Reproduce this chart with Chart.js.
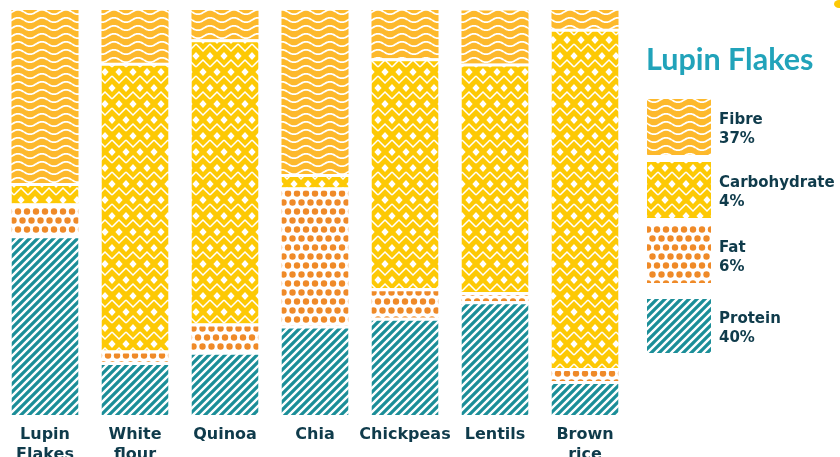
<!DOCTYPE html>
<html>
<head>
<meta charset="utf-8">
<script src="https://cdn.jsdelivr.net/npm/chart.js@4.4.1/dist/chart.umd.min.js"></script>
<style>
  html, body { margin: 0; padding: 0; background: #fff; }
  #wrap { width: 840px; height: 457px; position: relative; }
</style>
</head>
<body>
<div id="wrap"><canvas id="chart"></canvas></div>
<script>
// categories and shares of each bar (percent of bar height)
const foods = [['Lupin', 'Flakes'], ['White', 'flour'], 'Quinoa', 'Chia', 'Chickpeas', 'Lentils', ['Brown', 'rice']];
const protein = [44.4, 13.1, 15.6, 22.1, 24.0, 28.1, 8.4];
const fat = [7.8, 2.8, 7.0, 34.1, 7.3, 2.3, 3.2];
const carbohydrate = [5.1, 71.1, 70.2, 3.3, 56.8, 56.4, 83.8];
const fibre = [42.7, 13.0, 7.2, 40.5, 11.9, 13.1, 4.6];

// legend: values shown for Lupin Flakes
const legendTitle = 'Lupin Flakes';
const legendNames = ['Fibre', 'Carbohydrate', 'Fat', 'Protein'];
const legendValues = ['37%', '4%', '6%', '40%'];

const DARK = '#0f3b4b';

// --- pattern tiles ---
function tile(w, h, draw) {
    const c = document.createElement('canvas');
    c.width = w; c.height = h;
    draw(c.getContext('2d'), w, h);
    return c;
}

const stripeTile = tile(8, 8, (g, w, h) => {
    g.fillStyle = '#1b8e98';
    g.fillRect(0, 0, w, h);
    g.strokeStyle = '#fff';
    g.lineWidth = 2.4;
    g.beginPath();
    for (let k = -1; k <= 1; k++) {
        g.moveTo(k * w - 1, h + 1);
        g.lineTo(k * w + w + 1, -1);
    }
    g.stroke();
});

const dotTile = tile(9, 18, (g, w, h) => {
    g.fillStyle = '#fff';
    g.fillRect(0, 0, w, h);
    g.fillStyle = '#ef8a28';
    [[4.5, 4.5], [0, 13.5], [9, 13.5]].forEach(([x, y]) => {
        g.beginPath();
        g.arc(x, y, 3.2, 0, Math.PI * 2);
        g.fill();
    });
});

const diamondTile = tile(14, 32, (g, w, h) => {
    g.fillStyle = '#fdc905';
    g.fillRect(0, 0, w, h);
    g.fillStyle = '#fff';
    [[7, 8], [0, 24], [14, 24]].forEach(([x, y]) => {
        g.beginPath();
        g.moveTo(x, y - 4);
        g.lineTo(x + 3.6, y);
        g.lineTo(x, y + 4);
        g.lineTo(x - 3.6, y);
        g.closePath();
        g.fill();
    });
    g.strokeStyle = '#fff';
    g.lineWidth = 1.5;
    g.beginPath();
    g.moveTo(0, 12); g.lineTo(7, 19); g.lineTo(14, 12);
    g.moveTo(0, 3); g.lineTo(7, -4); g.lineTo(14, 3);
    g.moveTo(0, 35); g.lineTo(7, 28); g.lineTo(14, 35);
    g.stroke();
});

const waveTile = tile(24, 8, (g, w, h) => {
    g.fillStyle = '#fdb92c';
    g.fillRect(0, 0, w, h);
    g.strokeStyle = '#fff';
    g.lineWidth = 1.8;
    for (let k = -1; k <= 1; k++) {
        g.beginPath();
        for (let x = 0; x <= w; x += 0.5) {
            const y = 4 + k * h + 2.2 * Math.sin(x / w * Math.PI * 2);
            if (x === 0) g.moveTo(x, y); else g.lineTo(x, y);
        }
        g.stroke();
    }
});

const ctx = document.getElementById('chart').getContext('2d');
const pats = {
    protein: ctx.createPattern(stripeTile, 'repeat'),
    fat: ctx.createPattern(dotTile, 'repeat'),
    carbohydrate: ctx.createPattern(diamondTile, 'repeat'),
    fibre: ctx.createPattern(waveTile, 'repeat')
};

// white gap at the top of each segment except the top one
const gap = { top: 3, right: 0, bottom: 0, left: 0 };

// legend drawn on the right side of the canvas
const sideLegend = {
    id: 'sideLegend',
    afterDraw(chart) {
        const c = chart.ctx;
        c.save();
        c.fillStyle = '#21a3ba';
        c.font = 'bold 30.5px Lato';
        c.textBaseline = 'alphabetic';
        c.fillText(legendTitle, 646, 70);

        const fills = [pats.fibre, pats.carbohydrate, pats.fat, pats.protein];
        const tops = [99, 162, 226, 299];
        const heights = [56, 56, 57, 54];
        legendNames.forEach((name, i) => {
            c.fillStyle = fills[i];
            c.fillRect(647, tops[i], 64, heights[i]);
            const mid = tops[i] + heights[i] / 2;
            c.fillStyle = DARK;
            c.font = 'bold 15px "DejaVu Sans"';
            c.fillText(name, 719, mid - 3);
            c.fillText(legendValues[i], 719, mid + 16);
        });

        c.fillStyle = '#fdc905';
        c.beginPath();
        c.ellipse(839, 4, 5, 4, 0, 0, Math.PI * 2);
        c.fill();
        c.restore();
    }
};

new Chart(ctx, {
    type: 'bar',
    data: {
        labels: foods,
        datasets: [
            { label: 'Protein', data: protein, backgroundColor: pats.protein, borderColor: '#fff', borderWidth: gap },
            { label: 'Fat', data: fat, backgroundColor: pats.fat, borderColor: '#fff', borderWidth: gap },
            { label: 'Carbohydrate', data: carbohydrate, backgroundColor: pats.carbohydrate, borderColor: '#fff', borderWidth: gap },
            { label: 'Fibre', data: fibre, backgroundColor: pats.fibre, borderColor: '#fff', borderWidth: 0 }
        ]
    },
    options: {
        responsive: true,
        maintainAspectRatio: false,
        animation: false,
        layout: { padding: { top: 10, right: 210, left: 0, bottom: 0 } },
        datasets: { bar: { barPercentage: 1, categoryPercentage: 0.745, borderSkipped: false, inflateAmount: 0 } },
        plugins: { legend: { display: false }, tooltip: { enabled: false } },
        scales: {
            x: {
                stacked: true,
                grid: { display: false, drawTicks: false },
                border: { display: false },
                ticks: {
                    color: DARK,
                    font: { family: '"DejaVu Sans"', size: 16, weight: 'bold', lineHeight: 1.25 },
                    padding: 10,
                    maxRotation: 0,
                    minRotation: 0,
                    autoSkip: false
                },
                afterFit: (axis) => { axis.height = 42; }
            },
            y: {
                stacked: true,
                display: false,
                min: 0,
                max: 100
            }
        }
    },
    plugins: [sideLegend]
});
</script>
</body>
</html>
